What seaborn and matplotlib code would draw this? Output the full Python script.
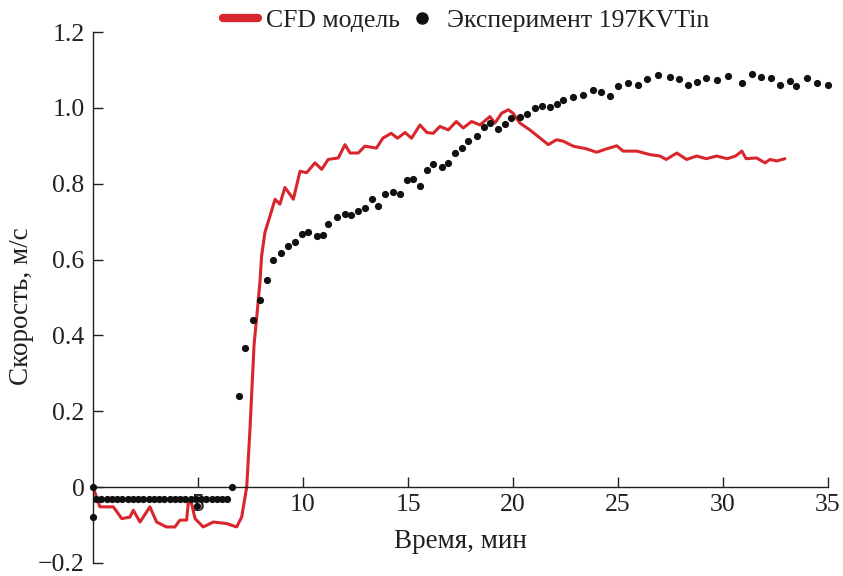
import numpy as np
import pandas as pd
import matplotlib
matplotlib.use('Agg')
import matplotlib.pyplot as plt
from matplotlib.lines import Line2D
import seaborn as sns

# CFD модель (время, мин / скорость, м/с)
cfd_t = [0.0, 0.33, 0.97, 1.37, 1.76, 1.92, 2.24, 2.71, 3.03, 3.5, 3.9, 4.14, 4.46, 4.54, 4.7,
         4.86, 5.25, 5.73, 6.37, 6.84, 7.08, 7.24, 7.32, 7.48, 7.67, 7.82, 7.95, 8.03, 8.19,
         8.43, 8.67, 8.9, 9.14, 9.38, 9.54, 9.86, 10.17, 10.57, 10.89, 11.2, 11.68, 12.0,
         12.24, 12.63, 12.95, 13.5, 13.8, 14.2, 14.5, 14.86, 15.17, 15.57, 15.9, 16.2, 16.52,
         16.92, 17.3, 17.63, 18.03, 18.43, 18.9, 19.14, 19.46, 19.78, 20.0, 20.33, 20.8, 21.3,
         21.68, 22.08, 22.4, 22.87, 23.5, 23.98, 24.46, 24.94, 25.25, 25.9, 26.5, 27.0, 27.3,
         27.8, 28.27, 28.75, 29.2, 29.7, 30.2, 30.6, 30.9, 31.1, 31.6, 32.0, 32.24, 32.56, 32.95]
cfd_v = [0.0, -0.052, -0.052, -0.083, -0.079, -0.061, -0.092, -0.052, -0.092, -0.105, -0.105,
         -0.087, -0.087, -0.039, -0.044, -0.083, -0.105, -0.092, -0.096, -0.105, -0.079, -0.026,
         0.0, 0.157, 0.375, 0.462, 0.54, 0.61, 0.672, 0.715, 0.759, 0.746, 0.79, 0.772, 0.759,
         0.833, 0.829, 0.855, 0.838, 0.864, 0.868, 0.903, 0.881, 0.881, 0.899, 0.894, 0.92,
         0.933, 0.92, 0.935, 0.92, 0.955, 0.935, 0.933, 0.951, 0.942, 0.964, 0.947, 0.964,
         0.955, 0.977, 0.96, 0.986, 0.995, 0.986, 0.96, 0.942, 0.92, 0.903, 0.916, 0.912,
         0.899, 0.892, 0.883, 0.892, 0.9, 0.886, 0.886, 0.877, 0.873, 0.864, 0.881, 0.864,
         0.873, 0.866, 0.873, 0.866, 0.873, 0.886, 0.866, 0.868, 0.855, 0.864, 0.86, 0.866]

# Эксперимент 197KVTin
exp_t = [0.0, 0.0, 0.15, 0.4, 0.65, 0.9, 1.15, 1.4, 1.65, 1.9, 2.15, 2.4, 2.65, 2.9, 3.15, 3.4,
         3.65, 3.9, 4.15, 4.4, 4.65, 4.9, 4.95, 5.15, 5.4, 5.65, 5.9, 6.15, 6.4, 6.6,
         6.97, 7.24, 7.63, 7.95, 8.3, 8.59, 8.94, 9.3, 9.62, 9.94, 10.25, 10.65, 10.97, 11.2,
         11.6, 12.0, 12.3, 12.63, 12.95, 13.27, 13.58, 13.9, 14.3, 14.6, 14.94, 15.25, 15.57,
         15.9, 16.2, 16.6, 16.9, 17.24, 17.56, 17.87, 18.27, 18.6, 18.9, 19.3, 19.6, 19.9,
         20.33, 20.65, 21.05, 21.37, 21.76, 22.08, 22.4, 22.87, 23.35, 23.8, 24.2, 24.6, 25.0,
         25.5, 25.97, 26.4, 26.9, 27.5, 27.9, 28.35, 28.74, 29.2, 29.7, 30.25, 30.9, 31.4,
         31.8, 32.3, 32.7, 33.2, 33.5, 34.0, 34.46, 35.0]
exp_v = [0.0, -0.08, -0.03, -0.03, -0.03, -0.03, -0.03, -0.03, -0.03, -0.03, -0.03, -0.03,
         -0.03, -0.03, -0.03, -0.03, -0.03, -0.03, -0.03, -0.03, -0.03, -0.03, -0.05, -0.03,
         -0.03, -0.03, -0.03, -0.03, -0.03, 0.0,
         0.24, 0.368, 0.442, 0.493, 0.545, 0.598, 0.618, 0.637, 0.646, 0.667, 0.674, 0.663,
         0.665, 0.694, 0.711, 0.72, 0.717, 0.728, 0.737, 0.761, 0.742, 0.774, 0.777, 0.772,
         0.81, 0.813, 0.794, 0.835, 0.851, 0.845, 0.855, 0.88, 0.894, 0.912, 0.925, 0.949,
         0.96, 0.944, 0.958, 0.973, 0.976, 0.984, 0.999, 1.005, 1.003, 1.01, 1.02, 1.028,
         1.034, 1.047, 1.043, 1.031, 1.058, 1.065, 1.06, 1.075, 1.086, 1.082, 1.075, 1.06,
         1.069, 1.08, 1.073, 1.084, 1.065, 1.089, 1.082, 1.078, 1.06, 1.071, 1.058, 1.08,
         1.065, 1.06]

x_ticks = [5, 10, 15, 20, 25, 30, 35]
y_ticks = [-0.2, 0, 0.2, 0.4, 0.6, 0.8, 1.0, 1.2]
y_labels = ['\u22120.2', '0', '0.2', '0.4', '0.6', '0.8', '1.0', '1.2']

df_cfd = pd.DataFrame({'t': cfd_t, 'v': cfd_v})
df_exp = pd.DataFrame({'t': exp_t, 'v': exp_v})

sns.set_style('ticks')
plt.rcParams['font.family'] = ['Liberation Serif', 'DejaVu Serif']
txt = '#231f20'
red = '#d8262c'

fig = plt.figure(figsize=(8.43, 5.76), dpi=100)
ax = fig.add_axes([0.1103, 0.0226, 0.8719, 0.9218])

sns.lineplot(data=df_cfd, x='t', y='v', ax=ax, color=red, lw=2.2, estimator=None,
             sort=False, zorder=2)
sns.scatterplot(data=df_exp, x='t', y='v', ax=ax, color='#111111', s=27, linewidth=0,
                clip_on=False, zorder=3)

ax.set_xlim(0, 35)
ax.set_ylim(-0.2, 1.2)
ax.spines['top'].set_visible(False)
ax.spines['right'].set_visible(False)
ax.spines['bottom'].set_position(('data', 0))
for sp in ['left', 'bottom']:
    ax.spines[sp].set_linewidth(1.0)
    ax.spines[sp].set_color(txt)

ax.set_xticks(x_ticks)
ax.set_xticklabels([str(v) for v in x_ticks])
ax.set_yticks(y_ticks)
ax.set_yticklabels(y_labels)
ax.tick_params(axis='both', direction='in', length=7, width=1.0, color=txt,
               labelsize=18.5, labelcolor=txt)
ax.tick_params(axis='y', pad=6)
ax.tick_params(axis='x', pad=5)

ax.set_xlabel('Время, мин', fontsize=19.5, color=txt)
ax.set_ylabel('Скорость, м/с', fontsize=19.5, color=txt)
ax.xaxis.set_label_coords(0.5, 0.064)
ax.yaxis.set_label_coords(-0.08, 0.483)

handles = [Line2D([], [], color=red, lw=6),
           Line2D([], [], color='#111111', marker='o', ls='none', markersize=8)]
fig.legend(handles, ['CFD модель', 'Эксперимент 197KVTin'], loc='center',
           bbox_to_anchor=(0.553, 0.965), ncol=2, frameon=False, fontsize=18.5,
           handlelength=1.36, handletextpad=0.3, columnspacing=0.2, labelcolor=txt)

fig.savefig('out.png', dpi=100)
